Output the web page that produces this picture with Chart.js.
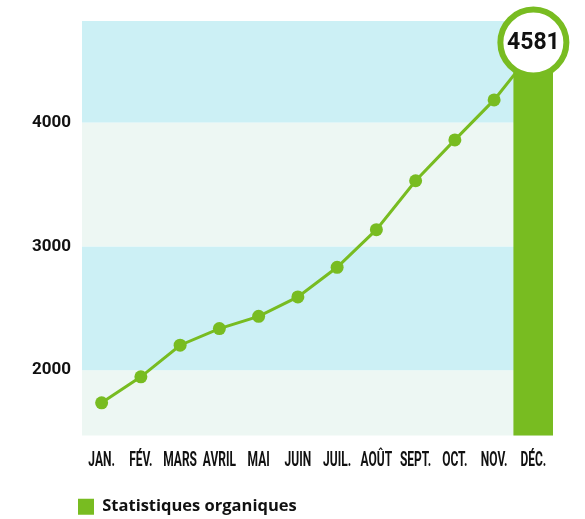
<!DOCTYPE html>
<html>
<head>
<meta charset="utf-8">
<script src="https://cdn.jsdelivr.net/npm/chart.js@4"></script>
<style>
  html, body { margin: 0; padding: 0; background: #fff; overflow: hidden; }
  canvas { display: block; }
</style>
</head>
<body>
<canvas id="organicChart" width="585" height="525"></canvas>
<script>
const months = ['JAN.', 'FÉV.', 'MARS', 'AVRIL', 'MAI', 'JUIN', 'JUIL.', 'AOÛT', 'SEPT.', 'OCT.', 'NOV.', 'DÉC.'];
const monthly = [1737, 1947, 2202, 2336, 2435, 2592, 2831, 3135, 3530, 3860, 4183, 4581];
const yTicks = [2000, 3000, 4000];
const yMin = 1473;
const yMax = 4820;

const green = '#78bc21';
const cyanBand = '#ccf0f5';
const mintBand = '#edf7f3';

// last month is shown as a bar, the rest as the line
const lastBar = monthly.map((v, i) => (i === monthly.length - 1 ? v : null));

// alternating background bands between the y ticks
const bandsPlugin = {
  id: 'bands',
  beforeDatasetsDraw(chart) {
    const { ctx, chartArea } = chart;
    const y = chart.scales.y;
    const edges = [chartArea.bottom, ...yTicks.map(v => y.getPixelForValue(v)), chartArea.top];
    ctx.save();
    for (let i = 0; i < edges.length - 1; i++) {
      ctx.fillStyle = i % 2 === 0 ? mintBand : cyanBand;
      ctx.fillRect(chartArea.left, edges[i + 1], chartArea.right - chartArea.left, edges[i] - edges[i + 1]);
    }
    ctx.restore();
  }
};

// condensed month labels + the highlighted final value
const labelsPlugin = {
  id: 'labels',
  afterDraw(chart) {
    const { ctx } = chart;
    const x = chart.scales.x;
    const y = chart.scales.y;
    ctx.save();
    ctx.font = 'bold 20px Roboto';
    ctx.fillStyle = '#111';
    ctx.textAlign = 'center';
    ctx.textBaseline = 'alphabetic';
    months.forEach((m, i) => {
      ctx.save();
      ctx.translate(x.getPixelForValue(i), x.top + 30);
      ctx.scale(0.6, 1);
      ctx.fillText(m, 0, 0);
      ctx.restore();
    });

    const last = monthly.length - 1;
    const cx = x.getPixelForValue(last);
    const cy = y.getPixelForValue(monthly[last]) - 8;
    ctx.beginPath();
    ctx.arc(cx, cy, 33, 0, Math.PI * 2);
    ctx.fillStyle = '#fff';
    ctx.fill();
    ctx.lineWidth = 6;
    ctx.strokeStyle = green;
    ctx.stroke();
    ctx.font = 'bold 23px Roboto';
    ctx.fillStyle = '#111';
    ctx.textBaseline = 'middle';
    ctx.fillText(String(monthly[last]), cx, cy + 1);
    ctx.restore();
  }
};

const ctx = document.getElementById('organicChart').getContext('2d');
new Chart(ctx, {
  type: 'bar',
  data: {
    labels: months,
    datasets: [
      {
        type: 'line',
        label: 'line',
        data: monthly,
        borderColor: green,
        backgroundColor: green,
        borderWidth: 3,
        pointRadius: monthly.map((v, i) => (i === monthly.length - 1 ? 0 : 6.5)),
        pointBorderWidth: 0,
        tension: 0,
        order: 1
      },
      {
        type: 'bar',
        label: 'Statistiques organiques',
        data: lastBar,
        backgroundColor: green,
        borderWidth: 0,
        barPercentage: 1,
        categoryPercentage: 1,
        order: 2
      }
    ]
  },
  options: {
    responsive: false,
    animation: false,
    layout: { padding: { top: 21, right: 32, left: 70, bottom: 0 } },
    plugins: {
      tooltip: { enabled: false },
      legend: {
        position: 'bottom',
        align: 'start',
        labels: {
          filter: item => item.text !== 'line',
          boxWidth: 16,
          boxHeight: 16,
          padding: 8,
          color: '#111',
          font: { family: 'Open Sans', weight: 'bold', size: 16.5 }
        }
      }
    },
    scales: {
      x: {
        grid: { display: false, drawTicks: false },
        border: { display: false },
        ticks: { display: false },
        afterFit: scale => { scale.height = 55; }
      },
      y: {
        min: yMin,
        max: yMax,
        grid: { display: false, drawTicks: false },
        border: { display: false },
        afterBuildTicks: scale => { scale.ticks = yTicks.map(v => ({ value: v })); },
        afterFit: scale => { scale.width = 12; },
        ticks: {
          // mirrored so the labels can sit left of the narrow axis box
          mirror: true,
          crossAlign: 'far',
          padding: -12 - 38,
          color: '#111',
          font: { family: 'Roboto', weight: 'bold', size: 17 },
          callback: v => String(v)
        }
      }
    }
  },
  plugins: [bandsPlugin, labelsPlugin]
});
</script>
</body>
</html>
